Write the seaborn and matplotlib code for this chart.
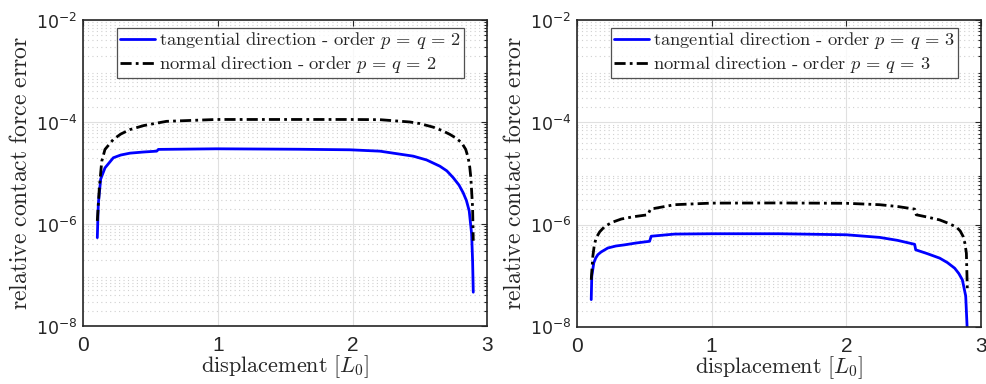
import numpy as np
import pandas as pd
import matplotlib
matplotlib.use("Agg")
import matplotlib.pyplot as plt
import matplotlib.ticker as mticker
import seaborn as sns

# %% data (left: p=q=2, right: p=q=3)
x_tan_p2 = [0.106, 0.1135, 0.131, 0.163, 0.225, 0.28, 0.349, 0.45, 0.547, 0.559, 0.99, 1.6, 1.98, 2.203,
            2.45, 2.55, 2.648, 2.7, 2.747, 2.79, 2.821, 2.845, 2.866, 2.884, 2.891, 2.896]
y_tan_p2 = [5.4e-7, 2.47e-6, 7.6e-6, 1.26e-5, 1.99e-5, 2.25e-5, 2.45e-5, 2.58e-5, 2.68e-5, 2.9e-5, 2.98e-5, 2.92e-5, 2.85e-5, 2.68e-5,
            2.14e-5, 1.8e-5, 1.36e-5, 1.1e-5, 8.1e-6, 5.8e-6, 4.1e-6, 2.9e-6, 1.8e-6, 6.3e-7, 1.9e-7, 4.6e-8]
x_nor_p2 = [0.106, 0.121, 0.139, 0.163, 0.225, 0.28, 0.349, 0.45, 0.547, 0.62, 0.99, 1.6, 1.98, 2.203,
            2.425, 2.5, 2.6, 2.67, 2.723, 2.77, 2.81, 2.84, 2.858, 2.87, 2.878, 2.891, 2.896]
y_nor_p2 = [1.15e-6, 5.1e-6, 1.7e-5, 2.9e-5, 4.55e-5, 5.8e-5, 7.1e-5, 8.5e-5, 9.5e-5, 1.03e-4, 1.12e-4, 1.12e-4, 1.12e-4, 1.11e-4,
            1.0e-4, 9.3e-5, 7.9e-5, 6.7e-5, 5.7e-5, 4.8e-5, 3.9e-5, 2.9e-5, 2.0e-5, 1.3e-5, 8.1e-6, 2.1e-6, 4.7e-7]

x_tan_p3 = [0.107, 0.111, 0.126, 0.14, 0.156, 0.18, 0.23, 0.29, 0.354, 0.44, 0.54, 0.552, 0.725, 1.0, 1.5, 2.0, 2.247,
            2.38, 2.507, 2.515, 2.6, 2.693, 2.75, 2.804, 2.835, 2.861, 2.886, 2.898]
y_tan_p3 = [3.4e-8, 9.7e-8, 1.78e-7, 2.2e-7, 2.57e-7, 2.9e-7, 3.47e-7, 3.8e-7, 4.0e-7, 4.35e-7, 4.7e-7, 5.9e-7, 6.5e-7, 6.6e-7, 6.6e-7, 6.3e-7, 5.6e-7,
            4.9e-7, 4.1e-7, 3.2e-7, 2.7e-7, 2.2e-7, 1.8e-7, 1.4e-7, 1.1e-7, 8.3e-8, 4.0e-8, 8e-9]
x_nor_p3 = [0.107, 0.119, 0.13, 0.144, 0.17, 0.206, 0.26, 0.33, 0.42, 0.527, 0.547, 0.725, 1.0, 1.5, 2.0, 2.247,
            2.38, 2.507, 2.519, 2.6, 2.693, 2.76, 2.817, 2.845, 2.866, 2.88, 2.891, 2.898]
y_nor_p3 = [8.3e-8, 2.4e-7, 4.0e-7, 5.5e-7, 7.2e-7, 9.1e-7, 1.1e-6, 1.28e-6, 1.42e-6, 1.55e-6, 2.0e-6, 2.44e-6, 2.62e-6, 2.64e-6, 2.6e-6, 2.44e-6,
            2.25e-6, 2.0e-6, 1.55e-6, 1.4e-6, 1.23e-6, 1.05e-6, 8.9e-7, 7.5e-7, 5.9e-7, 4.3e-7, 2.75e-7, 5.4e-8]

y_ticks = [1e-8, 1e-6, 1e-4, 1e-2]
y_ticklabels = [r"$10^{-8}$", r"$10^{-6}$", r"$10^{-4}$", r"$10^{-2}$"]
x_ticks = [0, 1, 2, 3]

# %% style
sns.set_style("white")
plt.rcParams["mathtext.fontset"] = "cm"
plt.rcParams["font.family"] = ["Liberation Sans", "DejaVu Sans"]

fig = plt.figure(figsize=(9.86, 3.84), dpi=100)
ax1 = fig.add_axes([0.0842, 0.151, 0.41, 0.797])
ax2 = fig.add_axes([0.585, 0.149, 0.41, 0.799])

panels = [
    (ax1, x_tan_p2, y_tan_p2, x_nor_p2, y_nor_p2, 2),
    (ax2, x_tan_p3, y_tan_p3, x_nor_p3, y_nor_p3, 3),
]

for ax, xt, yt, xn, yn, order in panels:
    df_t = pd.DataFrame({"x": xt, "y": yt})
    df_n = pd.DataFrame({"x": xn, "y": yn})
    sns.lineplot(data=df_t, x="x", y="y", ax=ax, color="#0000ff", lw=2,
                 label=r"$\mathrm{tangential\ direction}\ \text{-}\ \mathrm{order}\ p\,=\,q\,=\,%d$" % order)
    sns.lineplot(data=df_n, x="x", y="y", ax=ax, color="black", lw=2, ls=(0, (4, 1.5, 1, 1.5)),
                 label=r"$\mathrm{normal\ direction}\ \text{-}\ \mathrm{order}\ p\,=\,q\,=\,%d$" % order)
    ax.set_yscale("log")
    ax.set_ylim(1e-8, 1e-2)
    ax.set_xlim(0, 3)
    ax.set_xticks(x_ticks)
    ax.set_xticklabels([str(t) for t in x_ticks], fontsize=15, family="Liberation Sans")
    ax.set_yticks(y_ticks)
    ax.set_yticklabels(y_ticklabels, fontsize=12.5, math_fontfamily="dejavusans")
    ax.yaxis.set_minor_locator(mticker.LogLocator(base=10, subs=np.arange(2, 10), numticks=20))
    ax.yaxis.set_minor_formatter(mticker.NullFormatter())
    ax.grid(True, which="major", color="#e0e0e0", lw=0.8, ls="-")
    ax.grid(True, which="minor", axis="y", color="#d0d0d0", lw=0.8, ls=(0, (1, 3)))
    ax.tick_params(which="both", direction="in", top=True, right=True, length=4, width=0.8)
    ax.tick_params(which="minor", length=2.5)
    ax.tick_params(axis="x", pad=7)
    ax.tick_params(axis="y", pad=4)
    for s in ax.spines.values():
        s.set_color("#262626")
        s.set_linewidth(1.2)
    ax.set_xlabel(r"$\mathrm{displacement}\ [L_0]$", fontsize=16, labelpad=-1)
    ax.set_ylabel(r"$\mathrm{relative\ contact\ force\ error}$", fontsize=17, labelpad=3)
    leg = ax.legend(loc="upper left", bbox_to_anchor=(0.085, 0.975), fontsize=13.3, frameon=True,
                    fancybox=False, edgecolor="#262626", handlelength=1.9, handletextpad=0.2,
                    borderpad=0.15, labelspacing=0.15, borderaxespad=0)
    leg.get_frame().set_linewidth(0.9)

fig.savefig("out.png", dpi=100)
